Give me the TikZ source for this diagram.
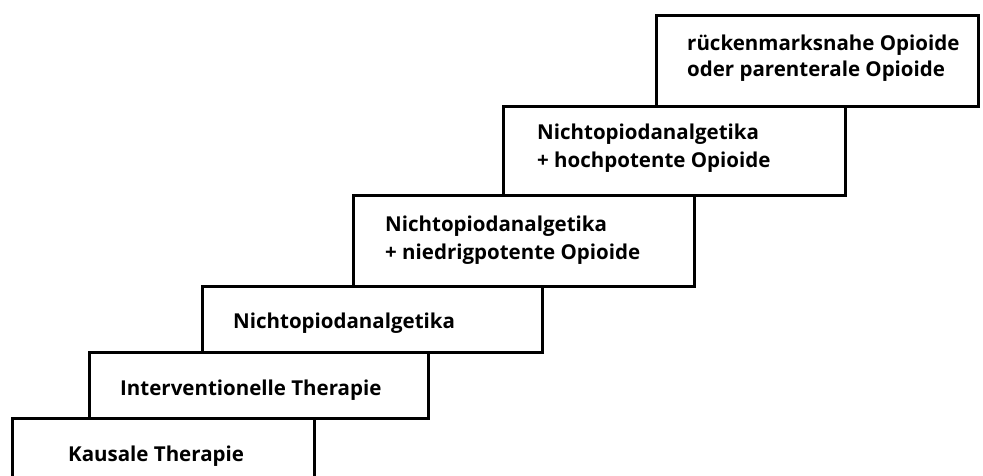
\documentclass[tikz,border=0pt]{standalone}
\usepackage{fontspec}
\setmainfont{Open Sans}[Ligatures=NoCommon]
\begin{document}
\begin{tikzpicture}[x=1pt,y=-1pt,
  stair/.style={draw=black, line width=2.5pt, rectangle, inner sep=0pt, anchor=north west},
  lbl/.style={font=\fontsize{20.5}{28}\selectfont\bfseries, inner sep=0pt, align=left}]
\useasboundingbox (0,0) rectangle (983,475);
\clip (0,0) rectangle (983,475);
\node[stair, minimum width=302pt, minimum height=85pt] (s1) at (11,417) {};
\node[stair, minimum width=339pt, minimum height=66pt] (s2) at (88,351) {};
\node[stair, minimum width=340pt, minimum height=66pt] (s3) at (201,285) {};
\node[stair, minimum width=341pt, minimum height=91pt] (s4) at (352,194) {};
\node[stair, minimum width=342pt, minimum height=89pt] (s5) at (502,105) {};
\node[stair, minimum width=322pt, minimum height=91pt] (s6) at (655,14) {};
\node[lbl, anchor=base west] (t1) at (68,461) {Kausale Therapie};
\node[lbl, anchor=base west] (t2) at (120,395) {Interventionelle Therapie};
\node[lbl, anchor=base west] (t3) at (233,328) {Nichtopiodanalgetika};
\node[lbl, anchor=west] (t4) at (385,240.5) {Nichtopiodanalgetika\\+ niedrigpotente Opioide};
\node[lbl, anchor=west] (t5) at (537,148.5) {Nichtopiodanalgetika\\+ hochpotente Opioide};
\node[lbl, anchor=west, font=\fontsize{20.5}{26}\selectfont\bfseries] (t6) at (687,58) {rückenmarksnahe Opioide\\oder parenterale Opioide};
\end{tikzpicture}
\end{document}
